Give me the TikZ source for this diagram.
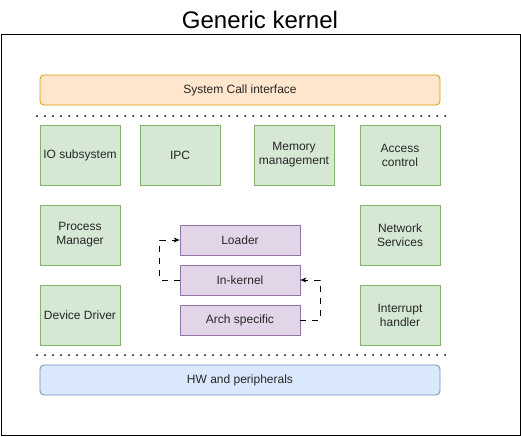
\documentclass[tikz,border=0pt]{standalone}
\usepackage{fontspec}
\setmainfont{Liberation Sans}
\usetikzlibrary{arrows.meta}
\definecolor{orfill}{HTML}{FFE6CC}\definecolor{ordraw}{HTML}{D79B00}
\definecolor{grfill}{HTML}{D5E8D4}\definecolor{grdraw}{HTML}{82B366}
\definecolor{pufill}{HTML}{E1D5E7}\definecolor{pudraw}{HTML}{9673A6}
\definecolor{blfill}{HTML}{DAE8FC}\definecolor{bldraw}{HTML}{6C8EBF}
\begin{document}
\begin{tikzpicture}[x=1pt,y=-1pt,
  txt/.style={font=\fontsize{12}{14}\selectfont,align=center,text=black!85},
  greenbox/.style={txt,draw=grdraw,fill=grfill,minimum width=80pt,minimum height=60pt,line width=0.8pt,inner sep=2pt},
  purplebox/.style={txt,draw=pudraw,fill=pufill,minimum width=120pt,minimum height=30pt,line width=0.8pt},
  barbox/.style={txt,rounded corners=4pt,minimum width=400pt,minimum height=30pt,line width=0.8pt},
  dotline/.style={line width=2pt,line cap=round,dash pattern=on 0pt off 8pt},
  conn/.style={line width=0.8pt,dash pattern=on 6pt off 6pt,-{Stealth[length=6pt,width=5pt]}}]
\useasboundingbox (0,0) rectangle (521,436);
\node (title) at (260,20) {\fontsize{24}{28}\selectfont Generic kernel};
\draw[line width=1pt] (1,35) rectangle (520,435);
\node[barbox,draw=ordraw,fill=orfill] (sci) at (240,90) {System Call interface};
\coordinate (d1a) at (37,116); \coordinate (d1b) at (446,116);
\draw[dotline] (d1a) -- (d1b);
\node[greenbox] (io) at (80,155) {IO subsystem};
\node[greenbox] (ipc) at (180,155) {IPC};
\node[greenbox] (mem) at (294,155) {Memory\\management};
\node[greenbox] (acc) at (400,155) {Access\\control};
\node[greenbox] (pm) at (80,235) {Process\\Manager};
\node[greenbox] (net) at (400,235) {Network\\Services};
\node[greenbox] (dd) at (80,315) {Device Driver};
\node[greenbox] (irq) at (400,315) {Interrupt\\handler};
\node[purplebox] (ld) at (240,240) {Loader};
\node[purplebox] (ik) at (240,280) {In-kernel};
\node[purplebox] (as) at (240,320) {Arch specific};
\draw[conn] (ik.west) -- ++(-20,0) |- (ld.west);
\draw[conn] (as.east) -- ++(20,0) |- (ik.east);
\coordinate (d2a) at (37,355); \coordinate (d2b) at (446,355);
\draw[dotline] (d2a) -- (d2b);
\node[barbox,draw=bldraw,fill=blfill] (hw) at (240,380) {HW and peripherals};
\end{tikzpicture}
\end{document}
